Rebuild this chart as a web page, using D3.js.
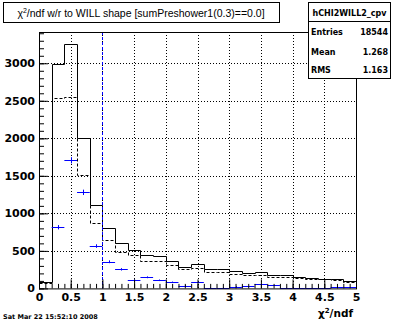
<!DOCTYPE html>
<html><head><meta charset="utf-8">
<script src="https://cdn.jsdelivr.net/npm/d3@7"></script>
<style>body{margin:0;background:#fff} svg{display:block}</style>
</head><body>
<svg id="c" width="396" height="322"></svg>
<script>
// Bin layout: 25 bins of width 0.2 on [0, 5]
const binLow = [0,0.2,0.4,0.6,0.8,1.0,1.2,1.4,1.6,1.8,2.0,2.2,2.4,2.6,2.8,3.0,3.2,3.4,3.6,3.8,4.0,4.2,4.4,4.6,4.8];
const binWidth = 0.2;

// All candidates (solid outline)
const totalHist = [90,2985,3254,2000,1110,800,604,511,447,431,362,289,327,254,254,226,201,218,174,174,156,134,129,121,94];
// Reference shape (dashed outline)
const refHist = [70,2533,2550,1505,867,640,485,450,365,365,310,255,270,213,213,195,172,172,155,155,145,121,121,112,85];
// cpv subset (blue points with errors)
const cpvHist = [0,815,1707,1280,564,355,254,110,148,108,82,38,82,11,11,24,26,55,40,6,3,5,3,14,14];

const xTicks = [0,0.5,1,1.5,2,2.5,3,3.5,4,4.5,5];
const yTicks = [0,500,1000,1500,2000,2500,3000];
const cutValue = 1.0;

const titleText = "/ndf w/r to WILL shape [sumPreshower1(0.3)==0.0]";
const histName = "hCHI2WILL2_cpv";
const statLabels = ["Entries","Mean","RMS"];
const statValues = ["18544","1.268","1.163"];
const dateText = "Sat Mar 22 15:52:10 2008";

const svg = d3.select("#c");
const L = 39, R = 356, T = 32, B = 288.4;
const x = d3.scaleLinear().domain([0, 5]).range([L, R]);
const y = d3.scaleLinear().domain([0, d3.max(totalHist) * 1.05]).range([B, T]);

const numFont = "'DejaVu Sans', sans-serif";
const blue = "#0000ff";

// grid
const grid = svg.append("g").attr("stroke", "#000").attr("stroke-width", 1).attr("stroke-dasharray", "1,2");
grid.selectAll("line.gx").data(xTicks.slice(1, -1)).join("line")
  .attr("x1", d => Math.round(x(d)) + 0.5).attr("x2", d => Math.round(x(d)) + 0.5)
  .attr("y1", T).attr("y2", B);
grid.selectAll("line.gy").data(yTicks.slice(1)).join("line")
  .attr("y1", d => Math.round(y(d)) + 0.5).attr("y2", d => Math.round(y(d)) + 0.5)
  .attr("x1", L).attr("x2", R);

// step outline of a histogram
function stepPoints(vals) {
  const pts = [[x(0), y(0)]];
  vals.forEach((v, i) => {
    pts.push([x(binLow[i]), y(v)]);
    pts.push([x(binLow[i] + binWidth), y(v)]);
  });
  pts.push([x(5), y(0)]);
  return pts.map(p => [Math.round(p[0]) + 0.5, Math.round(p[1]) + 0.5]);
}
const line = d3.line();

svg.append("path").attr("d", line(stepPoints(refHist)))
  .attr("fill", "none").attr("stroke", "#000").attr("stroke-width", 1).attr("stroke-dasharray", "3,2");
svg.append("path").attr("d", line(stepPoints(totalHist)))
  .attr("fill", "none").attr("stroke", "#000").attr("stroke-width", 1);

// blue points: horizontal bin-width bar, vertical Poisson error
const pts = svg.append("g").attr("stroke", blue).attr("stroke-width", 1);
cpvHist.forEach((v, i) => {
  if (v <= 0) return;
  const yy = Math.round(y(v)) + 0.5;
  const xc = Math.round(x(binLow[i] + binWidth / 2)) + 0.5;
  pts.append("line").attr("x1", x(binLow[i])).attr("x2", x(binLow[i] + binWidth)).attr("y1", yy).attr("y2", yy);
  const e = Math.sqrt(v);
  pts.append("line").attr("x1", xc).attr("x2", xc).attr("y1", y(v + e)).attr("y2", y(Math.max(0, v - e)));
});

// cut line
svg.append("line")
  .attr("x1", Math.round(x(cutValue)) + 0.5).attr("x2", Math.round(x(cutValue)) + 0.5)
  .attr("y1", T).attr("y2", B)
  .attr("stroke", blue).attr("stroke-width", 1).attr("stroke-dasharray", "3,2");

// frame
svg.append("rect").attr("x", L + 0.5).attr("y", T + 0.5).attr("width", R - L).attr("height", B - T)
  .attr("fill", "none").attr("stroke", "#000");

// axes with inward ticks
const xMinor = d3.range(0, 51).map(i => i / 10);
const yMinor = d3.range(0, 35).map(i => i * 100);

const xa = svg.append("g").attr("transform", `translate(0,${B})`);
xa.call(d3.axisBottom(x).tickValues(xMinor).tickSize(-4.5).tickFormat(""));
xa.append("g").call(d3.axisBottom(x).tickValues(xTicks).tickSize(-9).tickPadding(5).tickFormat(d3.format("")));
xa.selectAll(".domain").remove();
xa.selectAll("text").attr("font-family", numFont).attr("font-weight", "bold").attr("font-size", 11)
  .attr("fill", "#000").attr("dy", "0.35em").attr("y", 9);

const ya = svg.append("g").attr("transform", `translate(${L},0)`);
ya.call(d3.axisLeft(y).tickValues(yMinor).tickSize(-5).tickFormat(""));
ya.append("g").call(d3.axisLeft(y).tickValues(yTicks).tickSize(-9).tickPadding(4).tickFormat(d3.format("")));
ya.selectAll(".domain").remove();
ya.selectAll("text").attr("font-family", numFont).attr("font-weight", "bold").attr("font-size", 11).attr("fill", "#000");
svg.selectAll(".tick line").attr("stroke", "#000");

// axis title
const xt = svg.append("text").attr("x", 353).attr("y", 317).attr("text-anchor", "end")
  .attr("font-family", numFont).attr("font-weight", "bold").attr("font-size", 10.5).attr("fill", "#000");
xt.append("tspan").text("χ");
xt.append("tspan").attr("font-size", 7).attr("dy", -4).text("2");
xt.append("tspan").attr("dy", 4).text("/ndf");

// title box
svg.append("rect").attr("x", 3.5).attr("y", 2.5).attr("width", 276).attr("height", 20)
  .attr("fill", "#fff").attr("stroke", "#000");
const tt = svg.append("text").attr("x", 141).attr("y", 16.5).attr("text-anchor", "middle")
  .attr("font-family", "'Liberation Sans', Arial, sans-serif").attr("font-size", 10.5).attr("fill", "#000");
tt.append("tspan").text("χ");
tt.append("tspan").attr("font-size", 7).attr("dy", -4).text("2");
tt.append("tspan").attr("dy", 4).text(titleText);

// stats box
svg.append("rect").attr("x", 308.5).attr("y", 2.5).attr("width", 82).attr("height", 76)
  .attr("fill", "#fff").attr("stroke", "#000");
svg.append("line").attr("x1", 308.5).attr("x2", 390.5).attr("y1", 21.5).attr("y2", 21.5).attr("stroke", "#000");
svg.append("text").attr("x", 349.5).attr("y", 15.5).attr("text-anchor", "middle")
  .attr("font-family", numFont).attr("font-weight", "bold").attr("font-size", 8).attr("fill", "#000").text(histName);
const rowY = [35, 54.5, 72.5];
statLabels.forEach((s, i) => {
  svg.append("text").attr("x", 311).attr("y", rowY[i]).attr("font-family", numFont).attr("font-weight", "bold")
    .attr("font-size", 8).attr("fill", "#000").text(s);
  svg.append("text").attr("x", 388).attr("y", rowY[i]).attr("text-anchor", "end").attr("font-family", numFont)
    .attr("font-weight", "bold").attr("font-size", 8).attr("fill", "#000").text(statValues[i]);
});

// date stamp
svg.append("text").attr("x", 3).attr("y", 319).attr("font-family", numFont).attr("font-weight", "bold")
  .attr("font-size", 6.5).attr("fill", "#000").text(dateText);
</script>
</body></html>
